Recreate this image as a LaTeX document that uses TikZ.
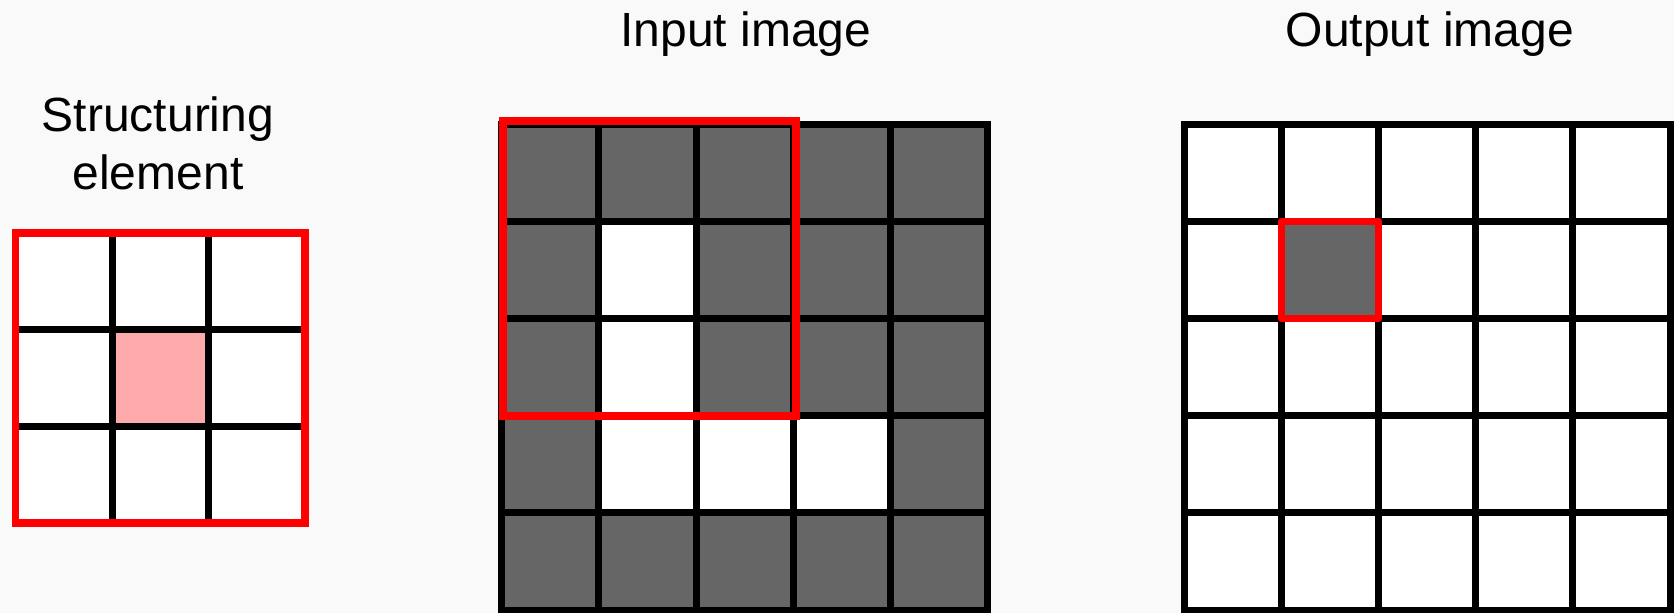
\documentclass[tikz,border=0pt]{standalone}
\usepackage{fontspec}
\setmainfont{Liberation Sans}
\definecolor{bg}{HTML}{F9F9F9}
\definecolor{cellgray}{HTML}{666666}
\definecolor{pinkc}{HTML}{FFAAAA}
\definecolor{redc}{HTML}{FF0000}
\begin{document}
\begin{tikzpicture}[x=1pt,y=-1pt,
  gridline/.style={line width=7pt, black},
  redline/.style={line width=7.5pt, redc},
  txt/.style={font=\fontsize{48}{57}\selectfont, anchor=base, inner sep=0pt, text=black}]
\fill[bg] (0,0) rectangle (1674,613);
\useasboundingbox (0,0) rectangle (1674,613);

% ---------- Structuring element ----------
\fill[white] (15.5,233) rectangle (305,523);
\fill[pinkc] (112,329.7) rectangle (208.7,426.3);
\foreach \i in {1,2} {
  \draw[gridline] ({15.5+\i*96.5},233) -- ({15.5+\i*96.5},523);
  \draw[gridline] (15.5,{233+\i*96.7}) -- (305,{233+\i*96.7});
}
\draw[redline] (15.5,233) rectangle (305,523);

% ---------- Input image ----------
\fill[cellgray] (501.7,124) rectangle (987.7,610);
\foreach \r/\c in {1/1,2/1,3/1,3/2,3/3}
  \fill[white] ({501.7+\c*97.2},{124+\r*97.2}) rectangle +(97.2,97.2);
\foreach \i in {1,...,4} {
  \draw[gridline] ({501.7+\i*97.2},124) -- ({501.7+\i*97.2},610);
  \draw[gridline] (501.7,{124+\i*97.2}) -- (987.7,{124+\i*97.2});
}
\draw[gridline] (501.7,124) rectangle (987.7,610);
\draw[redline, line width=8pt] (502.5,121) rectangle (796,416);

% ---------- Output image ----------
\fill[white] (1184,124) rectangle (1670,610);
\fill[cellgray] (1281.2,221.2) rectangle +(97.2,97.2);
\foreach \i in {1,...,4} {
  \draw[gridline] ({1184+\i*97.2},124) -- ({1184+\i*97.2},610);
  \draw[gridline] (1184,{124+\i*97.2}) -- (1670,{124+\i*97.2});
}
\draw[gridline] (1184,124) rectangle (1670,610);
\draw[redline, line width=7pt, line join=round] (1281.2,221.2) rectangle +(97.2,97.2);

% ---------- Labels ----------
\node[txt] (inp) at (746,46) {Input image};
\node[txt] (outp) at (1430,46) {Output image};
\node[txt] (se1) at (158,131.5) {Structuring};
\node[txt] (se2) at (158,189) {element};
\end{tikzpicture}
\end{document}
